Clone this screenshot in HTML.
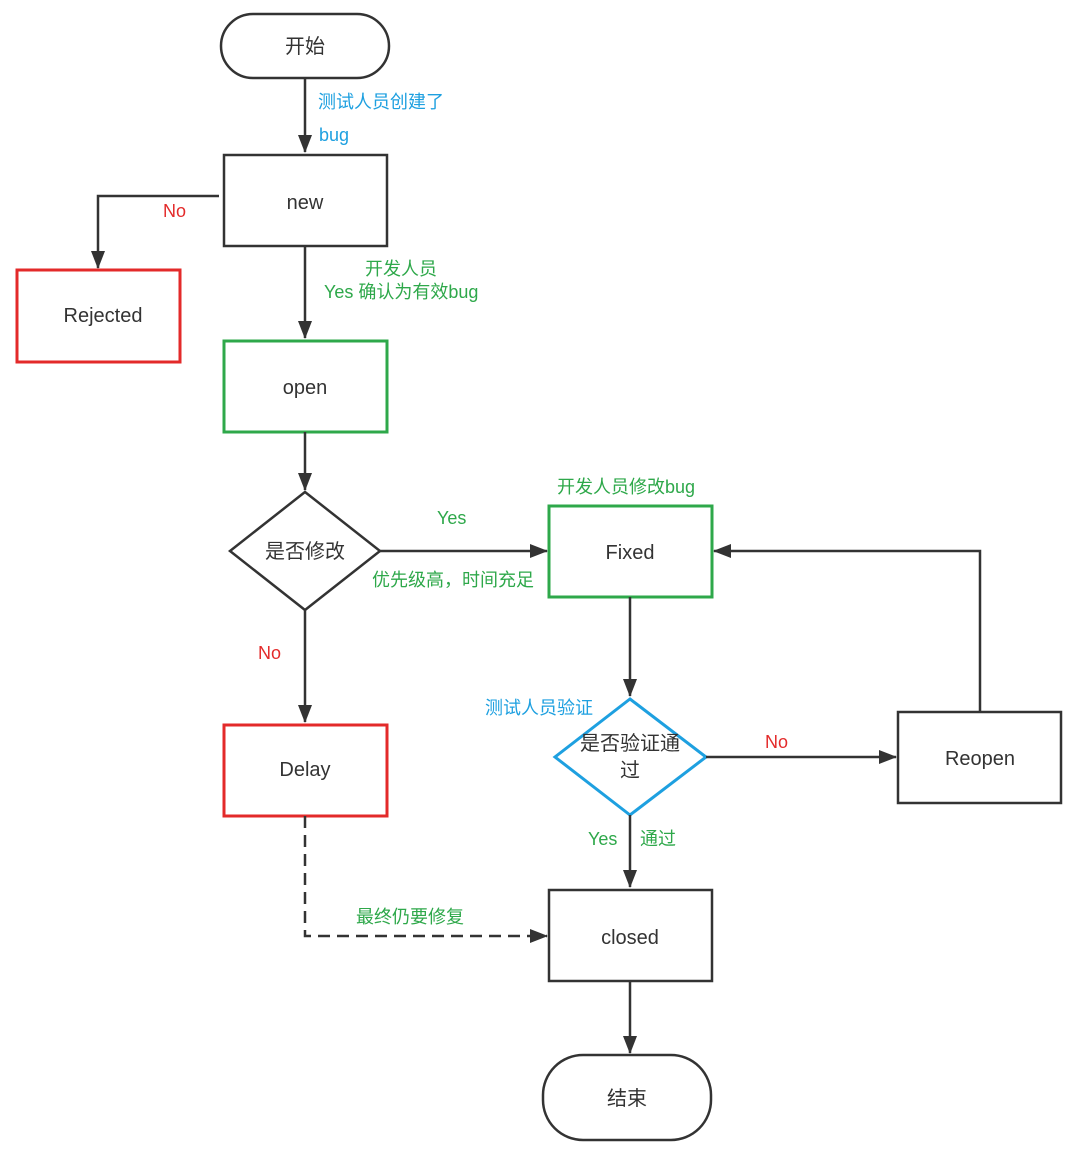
<!DOCTYPE html>
<html><head><meta charset="utf-8"><style>
html,body{margin:0;padding:0;background:#fff;}
svg{display:block;}
text{font-family:"Liberation Sans","Noto Sans CJK SC",sans-serif;}
</style></head><body>
<svg width="1071" height="1150" viewBox="0 0 1071 1150" xmlns="http://www.w3.org/2000/svg">
<defs>
<marker id="a" markerWidth="10" markerHeight="10" refX="9" refY="5" orient="auto" markerUnits="userSpaceOnUse" viewBox="0 0 10 10">
<path d="M0,0 L10,5 L0,10 z" fill="#333"/></marker>
<marker id="b" markerWidth="18" markerHeight="14" refX="17" refY="7" orient="auto" markerUnits="userSpaceOnUse" viewBox="0 0 18 14">
<path d="M0,0 L18,7 L0,14 z" fill="#333"/></marker>
</defs>
<g fill="none" stroke="#333" stroke-width="2.5">
<rect x="221" y="14" width="168" height="64" rx="32"/>
<rect x="224" y="155" width="163" height="91"/>
<rect x="17" y="270" width="163" height="92" stroke="#e32a2a" stroke-width="3"/>
<rect x="224" y="341" width="163" height="91" stroke="#2ea84a" stroke-width="3"/>
<polygon points="305,492 380,551 305,610 230,551"/>
<rect x="549" y="506" width="163" height="91" stroke="#2ea84a" stroke-width="3"/>
<rect x="224" y="725" width="163" height="91" stroke="#e32a2a" stroke-width="3"/>
<polygon points="630,699 706,757 630,815 555,757" stroke="#1ea0e0" stroke-width="3"/>
<rect x="898" y="712" width="163" height="91"/>
<rect x="549" y="890" width="163" height="91"/>
<rect x="543" y="1055" width="168" height="85" rx="40"/>
<!-- connectors -->
<path d="M305,78 V152" marker-end="url(#b)"/>
<path d="M219,196 H98 V268" marker-end="url(#b)"/>
<path d="M305,246 V338" marker-end="url(#b)"/>
<path d="M305,432 V490" marker-end="url(#b)"/>
<path d="M380,551 H547" marker-end="url(#b)"/>
<path d="M305,610 V722" marker-end="url(#b)"/>
<path d="M305,816 V936 H547" stroke-dasharray="12,7" marker-end="url(#b)"/>
<path d="M630,597 V696" marker-end="url(#b)"/>
<path d="M706,757 H896" marker-end="url(#b)"/>
<path d="M980,712 V551 H714" marker-end="url(#b)"/>
<path d="M630,815 V887" marker-end="url(#b)"/>
<path d="M630,981 V1053" marker-end="url(#b)"/>
</g>
<g font-size="20" fill="#333" text-anchor="middle">
<text x="305" y="53">开始</text>
<text x="305" y="209">new</text>
<text x="103" y="322">Rejected</text>
<text x="305" y="394">open</text>
<text x="305" y="558">是否修改</text>
<text x="630" y="559">Fixed</text>
<text x="305" y="776">Delay</text>
<text x="630" y="750">是否验证通</text>
<text x="630" y="777">过</text>
<text x="980" y="765">Reopen</text>
<text x="630" y="944">closed</text>
<text x="627" y="1105">结束</text>
</g>
<g font-size="18">
<text x="318" y="108" fill="#1ea0e0">测试人员创建了</text>
<text x="319" y="141" fill="#1ea0e0">bug</text>
<text x="163" y="217" fill="#e32a2a">No</text>
<text x="365" y="275" fill="#2ea84a">开发人员</text>
<text x="324" y="298" fill="#2ea84a">Yes  确认为有效bug</text>
<text x="437" y="524" fill="#2ea84a">Yes</text>
<text x="372" y="586" fill="#2ea84a">优先级高，时间充足</text>
<text x="557" y="493" fill="#2ea84a">开发人员修改bug</text>
<text x="258" y="659" fill="#e32a2a">No</text>
<text x="485" y="714" fill="#1ea0e0">测试人员验证</text>
<text x="765" y="748" fill="#e32a2a">No</text>
<text x="588" y="845" fill="#2ea84a">Yes</text>
<text x="640" y="845" fill="#2ea84a">通过</text>
<text x="356" y="923" fill="#2ea84a">最终仍要修复</text>
</g>
</svg>
</body></html>
